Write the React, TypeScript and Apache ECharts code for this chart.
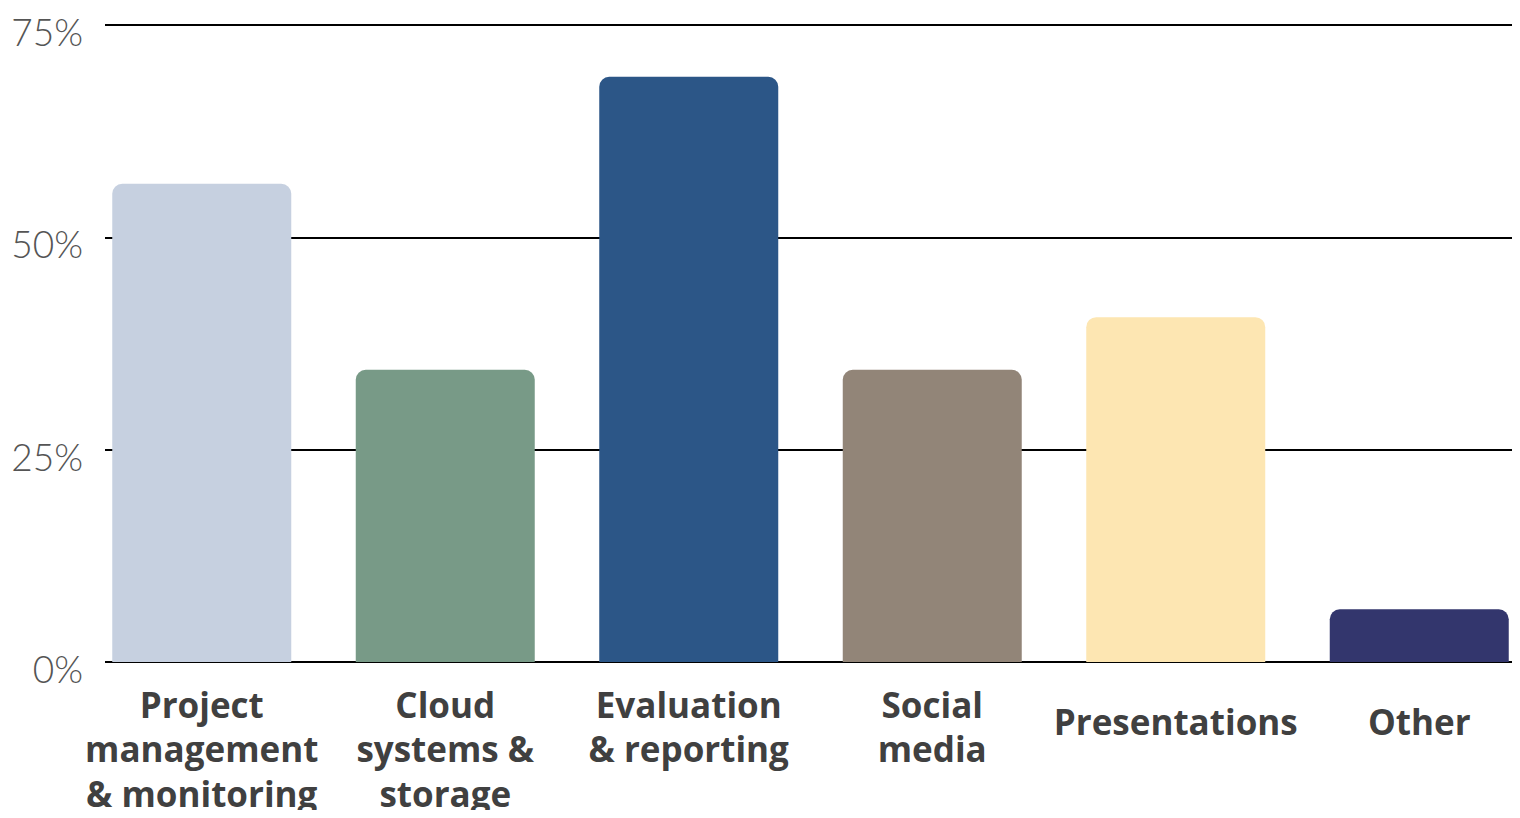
import React, { useEffect, useRef } from "react";
import * as echarts from "echarts";

const categories = [
  "Project\nmanagement\n& monitoring",
  "Cloud\nsystems &\nstorage",
  "Evaluation\n& reporting",
  "Social\nmedia",
  "Presentations",
  "Other",
];
const values = [56.3, 34.4, 68.9, 34.4, 40.6, 6.2];
const barColors = ["#c6d0e0", "#789a87", "#2c5687", "#928578", "#fde6b2", "#33366d"];
const yTicks = [0, 25, 50, 75];

export default function App() {
  const ref = useRef<HTMLDivElement>(null);
  useEffect(() => {
    if (!ref.current) return;
    const chart = echarts.init(ref.current, undefined, { renderer: "svg" });
    chart.setOption({
      animation: false,
      grid: [
        { left: 105, right: 6, top: 25, bottom: 156, outerBoundsMode: "none" },
        { left: 80, right: -21, top: 25, bottom: 156, outerBoundsMode: "none" },
      ],
      xAxis: [
        { type: "value", gridIndex: 0, show: false },
        {
          type: "category",
          gridIndex: 1,
          data: categories.map((c) => ({
            value: c,
            textStyle: c.includes("\n") ? {} : { padding: [17, 0, 0, 0] },
          })),
          axisLine: { show: false },
          axisTick: { show: false },
          axisLabel: {
            interval: 0,
            margin: 20,
            color: "#404040",
            fontFamily: "Open Sans",
            fontWeight: 700,
            fontSize: 35,
            lineHeight: 44.5,
          },
        },
      ],
      yAxis: [
        {
          type: "value",
          gridIndex: 0,
          min: yTicks[0],
          max: yTicks[yTicks.length - 1],
          interval: 25,
          axisLine: { show: false },
          axisTick: { show: false },
          splitLine: { lineStyle: { color: "#000", width: 2 } },
          axisLabel: {
            margin: 22,
            color: "#555",
            fontFamily: "Lato",
            fontWeight: 300,
            fontSize: 37,
            verticalAlign: "top",
            lineHeight: 13,
            formatter: (v: number) => v + "%",
          },
        },
        { type: "value", gridIndex: 1, min: 0, max: 75, show: false },
      ],
      series: [
        {
          type: "bar",
          xAxisIndex: 1,
          yAxisIndex: 1,
          barWidth: 179,
          data: values.map((v, i) => ({
            value: v,
            itemStyle: { color: barColors[i], borderRadius: [10, 10, 0, 0] },
          })),
        },
      ],
    });
    return () => chart.dispose();
  }, []);
  return <div ref={ref} style={{ width: 1520, height: 818, margin: -8 }} />;
}
